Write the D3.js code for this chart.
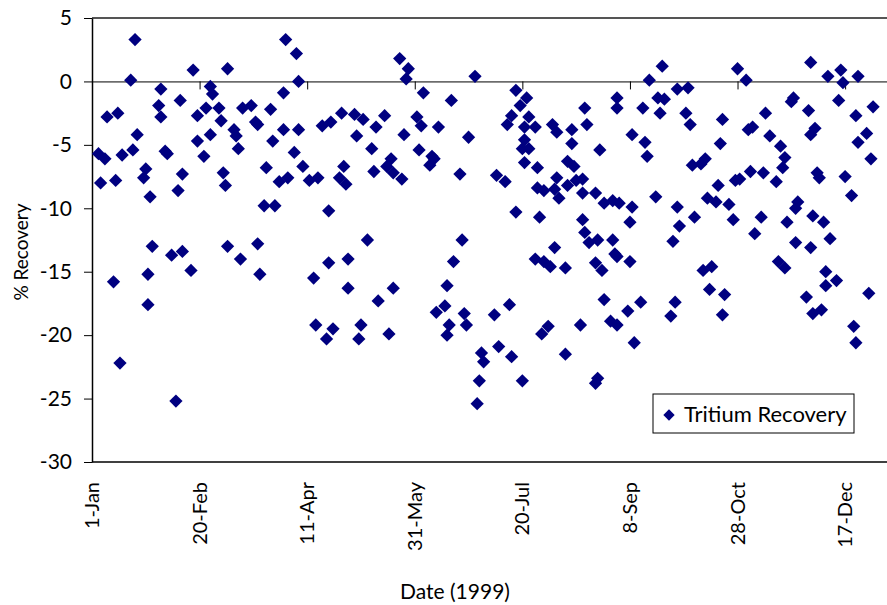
<!DOCTYPE html>
<html>
<head>
<meta charset="utf-8">
<script src="https://cdn.jsdelivr.net/npm/d3@7"></script>
<style>
  body { margin: 0; background: #fff; }
  text { font-family: Lato, "Open Sans", sans-serif; fill: #000; }
</style>
</head>
<body>
<div id="chart"></div>
<script>
// days counted from 1-Jan-1999, recovery in %
const days = [3,4,6,7,10,11,12,13,14,18,19,20,21,24,25,26,26,27,28,31,32,32,34,35,37,39,40,41,42,42,
  46,47,49,49,52,53,55,55,56,59,60,61,62,63,63,66,67,68,69,70,74,76,77,77,78,80,81,83,84,85,
  87,89,89,90,91,94,95,96,96,98,101,103,104,105,107,109,110,110,111,112,115,116,117,118,119,119,122,123,124,125,
  126,128,130,131,132,133,136,137,138,139,140,140,143,144,145,146,147,151,152,153,154,157,158,159,160,161,164,165,165,166,
  167,168,171,172,173,174,175,178,179,180,181,182,187,188,189,192,193,194,195,195,197,197,199,200,201,200,201,201,202,203,
  203,206,206,207,207,208,209,210,210,212,213,214,215,215,216,216,217,220,220,221,221,223,223,224,225,228,227,228,228,229,
  229,230,231,234,235,234,234,235,236,237,238,238,241,242,242,243,244,244,244,244,245,249,250,250,251,251,252,255,256,257,
  258,259,262,263,264,265,266,269,270,271,272,272,273,276,277,278,279,280,283,284,285,286,287,288,290,291,292,293,294,293,
  296,298,299,300,301,304,305,307,306,308,311,312,313,315,318,319,320,321,322,322,323,326,325,327,328,327,332,333,334,336,
  334,334,335,335,337,338,339,340,341,341,342,343,346,347,348,349,350,353,354,355,356,355,356,360,361,362,363];
const recovery = [-5.7,-8.0,-6.1,-2.8,-15.8,-7.8,-2.5,-22.2,-5.8,0.1,-5.4,3.3,-4.2,-7.6,-6.9,-15.2,-17.6,-9.1,-13.0,-1.9,-2.8,-0.6,-5.5,-5.7,-13.7,-25.2,-8.6,-1.5,-7.3,-13.4,
  -14.9,0.9,-2.7,-4.7,-5.9,-2.1,-4.2,-0.4,-1.0,-2.1,-3.1,-7.2,-8.2,1.0,-13.0,-3.8,-4.3,-5.3,-14.0,-2.1,-1.9,-3.2,-3.4,-12.8,-15.2,-9.8,-6.8,-2.2,-4.7,-9.8,
  -7.9,-3.8,-0.9,3.3,-7.6,-5.6,2.2,0.0,-3.8,-6.7,-7.8,-15.5,-19.2,-7.6,-3.5,-20.3,-10.2,-14.3,-3.2,-19.5,-7.6,-2.5,-6.7,-8.1,-14.0,-16.3,-2.6,-4.3,-20.3,-19.2,
  -3.0,-12.5,-5.3,-7.1,-3.6,-17.3,-2.7,-6.7,-19.9,-6.1,-7.2,-16.3,1.8,-7.7,-4.2,0.2,1.0,-2.8,-5.4,-3.5,-0.9,-6.6,-5.9,-6.1,-18.2,-3.6,-17.7,-16.1,-20.0,-19.2,
  -1.5,-14.2,-7.3,-12.5,-18.3,-19.2,-4.4,0.4,-25.4,-23.6,-21.4,-22.1,-18.4,-7.4,-20.9,-7.9,-3.4,-17.6,-2.7,-21.7,-0.7,-10.3,-1.9,-5.3,-3.6,-23.6,-4.6,-6.4,-1.3,-5.3,
  -2.8,-3.6,-14.0,-6.8,-8.4,-10.7,-19.9,-8.6,-14.2,-19.3,-14.6,-3.4,-8.5,-13.1,-4.0,-7.6,-9.2,-14.7,-21.5,-6.3,-8.2,-3.8,-4.9,-6.7,-7.8,-10.9,-19.2,-7.7,-8.8,-2.1,
  -11.9,-3.4,-12.7,-8.8,-12.5,-14.3,-23.8,-23.4,-5.4,-14.9,-9.6,-17.2,-18.9,-9.4,-12.5,-13.6,-13.8,-19.2,-1.3,-2.1,-9.6,-18.1,-11.1,-14.2,-4.2,-9.9,-20.6,-17.4,-2.1,-4.8,
  -5.9,0.1,-9.1,-1.3,-2.5,1.2,-1.4,-18.5,-12.6,-17.4,-0.6,-9.9,-11.4,-2.5,-0.5,-3.4,-6.6,-10.7,-6.5,-14.9,-6.1,-9.2,-16.4,-14.6,-9.5,-8.2,-4.9,-3.0,-16.8,-18.4,
  -9.7,-10.9,-7.8,1.0,-7.7,0.1,-3.8,-3.6,-7.1,-12.0,-10.7,-7.2,-2.5,-4.3,-7.9,-14.2,-5.1,-6.8,-14.7,-6.0,-11.1,-1.3,-1.6,-10.0,-9.5,-12.7,-17.0,-2.3,-4.2,-3.7,
  -13.1,1.5,-10.6,-18.3,-7.2,-7.6,-18.0,-11.1,-15.0,-16.1,0.4,-12.4,-15.7,-1.5,0.9,-0.1,-7.5,-9.0,-19.3,-2.7,-4.8,-20.6,0.4,-4.1,-16.7,-6.1,-2.0];
const tickDays = [0, 50, 100, 150, 200, 250, 300, 350];
const yTicks = [5, 0, -5, -10, -15, -20, -25, -30];
const seriesName = "Tritium Recovery";

const width = 887, height = 605;
const plot = { left: 92, top: 18, right: 887, bottom: 462 };
const start = new Date(Date.UTC(1999, 0, 1));
const day = d => d3.utcDay.offset(start, d);
const points = days.map((d, i) => ({ date: day(d), value: recovery[i] }));

const svg = d3.select('#chart').append('svg')
  .attr('width', width)
  .attr('height', height);

const x = d3.scaleUtc()
  .domain([start, day(369)])
  .range([plot.left, plot.right - 1]);
const y = d3.scaleLinear()
  .domain([-30, 5])
  .range([plot.bottom, plot.top]);

// top and bottom edges of the plot
svg.append('line')
  .attr('x1', plot.left).attr('x2', plot.right)
  .attr('y1', plot.top).attr('y2', plot.top)
  .attr('stroke', '#555').attr('stroke-width', 2);
svg.append('line')
  .attr('x1', plot.left).attr('x2', plot.right)
  .attr('y1', plot.bottom).attr('y2', plot.bottom)
  .attr('stroke', '#000').attr('stroke-width', 1.5);

// date axis crossing at zero
const xAxis = svg.append('g')
  .attr('transform', `translate(0,${y(0)})`)
  .call(d3.axisBottom(x)
    .tickValues(tickDays.map(day))
    .tickSize(8)
    .tickSizeOuter(0)
    .tickFormat(''));
xAxis.select('.domain').attr('stroke', '#000').attr('d', `M${plot.left},0.5H${plot.right}`);
xAxis.selectAll('.tick line').attr('stroke', '#000');

// rotated date labels under the plot
const fmt = d3.utcFormat('%-d-%b');
svg.append('g').selectAll('text')
  .data(tickDays)
  .join('text')
  .attr('transform', d => `translate(${x(day(d))},482) rotate(-90)`)
  .attr('dy', '0.35em')
  .attr('text-anchor', 'end')
  .style('font-size', '20px')
  .text(d => fmt(day(d)));

// value axis
const yAxis = svg.append('g')
  .attr('transform', `translate(${plot.left},0)`)
  .call(d3.axisLeft(y)
    .tickValues(yTicks)
    .tickSize(8)
    .tickSizeOuter(0)
    .tickPadding(12)
    .tickFormat(d => String(d)));
yAxis.select('.domain').attr('stroke', '#000').attr('stroke-width', 1.5);
yAxis.selectAll('.tick line').attr('stroke', '#000');
yAxis.selectAll('.tick text').style('font-size', '21px').attr('fill', '#000');

// markers
const diamond = d3.symbol(d3.symbolSquare, 88);
svg.append('g').selectAll('path')
  .data(points)
  .join('path')
  .attr('d', diamond)
  .attr('transform', d => `translate(${x(d.date)},${y(d.value)}) rotate(45)`)
  .attr('fill', '#000080');

// axis titles
svg.append('text')
  .attr('x', 455).attr('y', 599)
  .attr('text-anchor', 'middle')
  .style('font-size', '21px')
  .text('Date (1999)');
svg.append('text')
  .attr('transform', 'translate(28,252) rotate(-90)')
  .attr('text-anchor', 'middle')
  .style('font-size', '19px')
  .text('% Recovery');

// legend
const legend = svg.append('g').attr('transform', 'translate(653,394)');
legend.append('rect')
  .attr('width', 201).attr('height', 39)
  .attr('fill', '#fff').attr('stroke', '#000');
legend.append('path')
  .attr('d', d3.symbol(d3.symbolSquare, 64))
  .attr('transform', 'translate(16,21) rotate(45)')
  .attr('fill', '#000080');
legend.append('text')
  .attr('x', 31).attr('y', 28)
  .style('font-size', '22px')
  .text(seriesName);
</script>
</body>
</html>
